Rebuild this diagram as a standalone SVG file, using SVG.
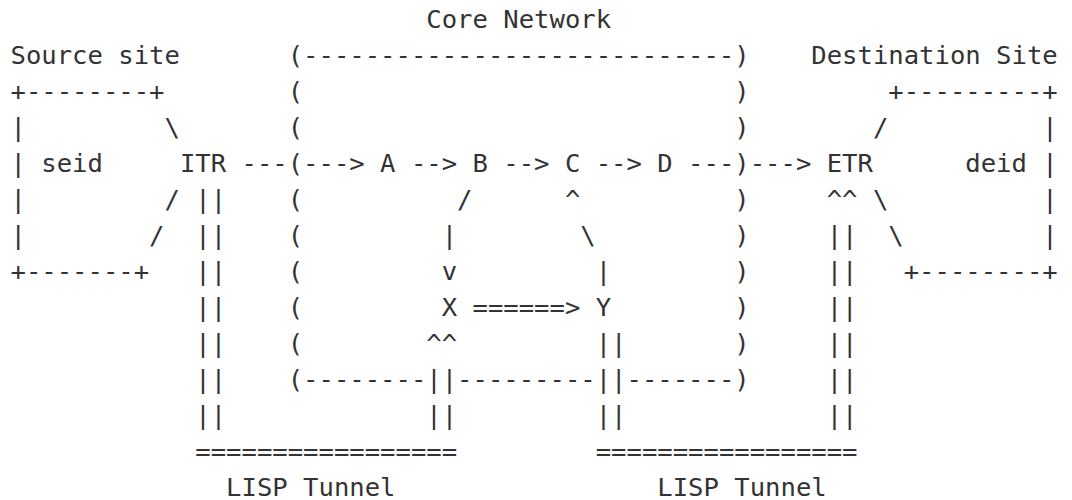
<svg xmlns="http://www.w3.org/2000/svg" width="1072" height="500" viewBox="0 0 1072 500" xml:space="preserve">
<style>
text { font-family: "DejaVu Sans Mono", "Liberation Mono", monospace; font-size: 25.58px; fill: #333333; white-space: pre; }
</style>
<rect x="0" y="0" width="1072" height="500" fill="#ffffff"/>
<g id="source-site">
<text x="10.5" y="64">Source site</text>
<text x="10.5" y="100">+--------+</text>
<text x="10.5" y="136">|         \</text>
<text x="10.5" y="172">| seid</text>
<text x="10.5" y="208">|         /</text>
<text x="10.5" y="244">|        /</text>
<text x="10.5" y="280">+-------+</text>
</g>
<g id="itr"><text x="179.9" y="172">ITR</text></g>
<g id="core-network">
<text x="426.3" y="28">Core Network</text>
<text x="287.7" y="64">(----------------------------)</text>
<text x="287.7" y="100">(</text><text x="734.3" y="100">)</text>
<text x="287.7" y="136">(</text><text x="734.3" y="136">)</text>
<text x="287.7" y="172">(</text><text x="734.3" y="172">)</text>
<text x="287.7" y="208">(</text><text x="734.3" y="208">)</text>
<text x="287.7" y="244">(</text><text x="734.3" y="244">)</text>
<text x="287.7" y="280">(</text><text x="734.3" y="280">)</text>
<text x="287.7" y="316">(</text><text x="734.3" y="316">)</text>
<text x="287.7" y="352">(</text><text x="734.3" y="352">)</text>
<text x="287.7" y="388">(--------</text>
<text x="457.1" y="388">---------</text>
<text x="626.5" y="388">-------)</text>
</g>
<g id="node-a"><text x="380.1" y="172">A</text></g>
<g id="node-b"><text x="472.5" y="172">B</text></g>
<g id="node-c"><text x="564.9" y="172">C</text></g>
<g id="node-d"><text x="657.3" y="172">D</text></g>
<g id="node-x"><text x="441.7" y="316">X</text></g>
<g id="node-y"><text x="595.7" y="316">Y</text></g>
<g id="etr"><text x="826.7" y="172">ETR</text></g>
<g id="destination-site">
<text x="811.3" y="64">Destination Site</text>
<text x="888.3" y="100">+---------+</text>
<text x="872.9" y="136">/          |</text>
<text x="965.3" y="172">deid |</text>
<text x="872.9" y="208">\          |</text>
<text x="888.3" y="244">\         |</text>
<text x="903.7" y="280">+--------+</text>
</g>
<g id="connectors">
<text x="241.5" y="172">---</text>
<text x="303.1" y="172">---&gt;</text>
<text x="410.9" y="172">--&gt;</text>
<text x="503.3" y="172">--&gt;</text>
<text x="595.7" y="172">--&gt;</text>
<text x="688.1" y="172">---</text>
<text x="749.7" y="172">---&gt;</text>
<text x="457.1" y="208">/</text>
<text x="564.9" y="208">^</text>
<text x="441.7" y="244">|</text>
<text x="580.3" y="244">\</text>
<text x="441.7" y="280">v</text>
<text x="595.7" y="280">|</text>
<text x="472.5" y="316">======&gt;</text>
</g>
<g id="lisp-tunnel-1">
<text x="195.3" y="208">||</text>
<text x="195.3" y="244">||</text>
<text x="195.3" y="280">||</text>
<text x="195.3" y="316">||</text>
<text x="195.3" y="352">||</text>
<text x="195.3" y="388">||</text>
<text x="195.3" y="424">||</text>
<text x="426.3" y="352">^^</text>
<text x="426.3" y="388">||</text>
<text x="426.3" y="424">||</text>
<text x="195.3" y="460">=================</text>
<text x="226.1" y="496">LISP Tunnel</text>
</g>
<g id="lisp-tunnel-2">
<text x="595.7" y="352">||</text>
<text x="595.7" y="388">||</text>
<text x="595.7" y="424">||</text>
<text x="826.7" y="208">^^</text>
<text x="826.7" y="244">||</text>
<text x="826.7" y="280">||</text>
<text x="826.7" y="316">||</text>
<text x="826.7" y="352">||</text>
<text x="826.7" y="388">||</text>
<text x="826.7" y="424">||</text>
<text x="595.7" y="460">=================</text>
<text x="657.3" y="496">LISP Tunnel</text>
</g>
</svg>
